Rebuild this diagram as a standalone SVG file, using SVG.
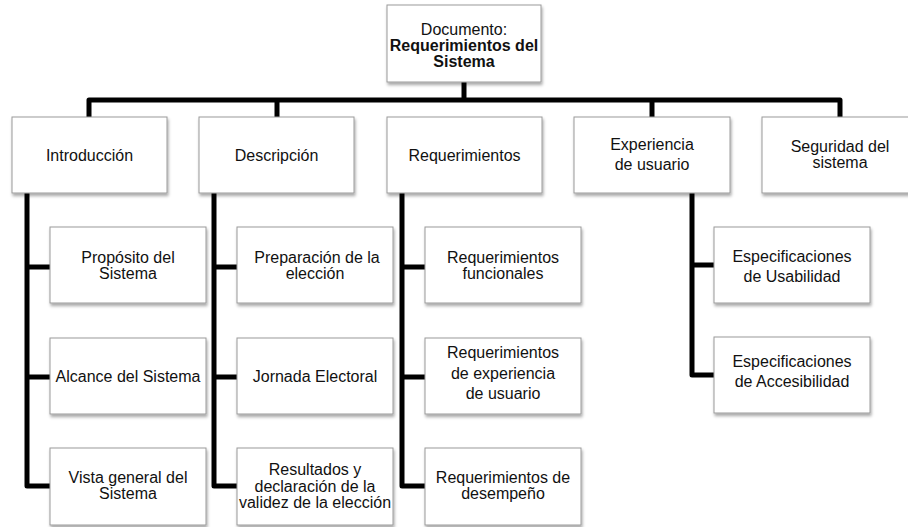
<svg xmlns="http://www.w3.org/2000/svg" width="908" height="527" viewBox="0 0 908 527">
<defs>
<filter id="sh" x="-10%" y="-10%" width="125%" height="130%">
<feDropShadow dx="1" dy="2.5" stdDeviation="1.6" flood-color="#000" flood-opacity="0.35"/>
</filter>
</defs>
<style>
.box{fill:#fff;stroke:#9a9a9a;stroke-width:1;filter:url(#sh)}
text{font-family:"Liberation Sans",Arial,sans-serif;font-size:16px;fill:#111;text-anchor:middle}
.b{font-weight:bold}
.c{fill:none;stroke:#000;stroke-width:5;stroke-linejoin:round;stroke-linecap:butt}
</style>
<rect width="908" height="527" fill="#fff"/>
<g id="connectors">
<path class="c" d="M464,82 V100"/>
<path class="c" d="M89,117 V100 H840 V117"/>
<path class="c" d="M277,100 V117"/>
<path class="c" d="M652,100 V117"/>
<path class="c" d="M27,193 V486 H50 M27,267 H50 M27,377 H50"/>
<path class="c" d="M214,193 V486 H237 M214,267 H237 M214,377 H237"/>
<path class="c" d="M402,193 V486 H425 M402,267 H425 M402,377 H425"/>
<path class="c" d="M692,193 V375 H714 M692,265 H714"/>
</g>
<g id="root">
<rect class="box" x="387" y="5" width="154" height="77"/>
<text x="464" y="35">Documento:</text>
<text class="b" x="464" y="51">Requerimientos del</text>
<text class="b" x="464" y="67">Sistema</text>
</g>
<g id="introduccion">
<rect class="box" x="12" y="117" width="155" height="76"/>
<text x="89.5" y="161">Introducción</text>
</g>
<g id="descripcion">
<rect class="box" x="199" y="117" width="155" height="76"/>
<text x="276.5" y="161">Descripción</text>
</g>
<g id="requerimientos">
<rect class="box" x="387" y="117" width="155" height="76"/>
<text x="464.5" y="161">Requerimientos</text>
</g>
<g id="experiencia">
<rect class="box" x="574" y="117" width="156" height="76"/>
<text x="652" y="150">Experiencia</text>
<text x="652" y="170">de usuario</text>
</g>
<g id="seguridad">
<rect class="box" x="762" y="117" width="156" height="76"/>
<text x="840" y="152">Seguridad del</text>
<text x="840" y="168">sistema</text>
</g>
<g id="proposito">
<rect class="box" x="50" y="227" width="156" height="76"/>
<text x="128" y="263">Propósito del</text>
<text x="128" y="279">Sistema</text>
</g>
<g id="alcance">
<rect class="box" x="50" y="338" width="156" height="76"/>
<text x="128" y="382">Alcance del Sistema</text>
</g>
<g id="vista">
<rect class="box" x="50" y="448" width="156" height="77"/>
<text x="128" y="483">Vista general del</text>
<text x="128" y="499">Sistema</text>
</g>
<g id="preparacion">
<rect class="box" x="237" y="227" width="156" height="76"/>
<text x="317" y="263">Preparación de la</text>
<text x="315" y="279">elección</text>
</g>
<g id="jornada">
<rect class="box" x="237" y="338" width="156" height="76"/>
<text x="315" y="382">Jornada Electoral</text>
</g>
<g id="resultados">
<rect class="box" x="237" y="448" width="156" height="77"/>
<text x="315" y="475">Resultados y</text>
<text x="315" y="492">declaración de la</text>
<text x="315" y="508">validez de la elección</text>
</g>
<g id="funcionales">
<rect class="box" x="425" y="227" width="156" height="76"/>
<text x="503" y="263">Requerimientos</text>
<text x="503" y="279">funcionales</text>
</g>
<g id="experiencia-usuario">
<rect class="box" x="425" y="338" width="156" height="76"/>
<text x="503" y="358">Requerimientos</text>
<text x="503" y="379">de experiencia</text>
<text x="503" y="399">de usuario</text>
</g>
<g id="desempeno">
<rect class="box" x="425" y="448" width="156" height="77"/>
<text x="503" y="483">Requerimientos de</text>
<text x="503" y="499">desempeño</text>
</g>
<g id="usabilidad">
<rect class="box" x="714" y="227" width="156" height="76"/>
<text x="792" y="262">Especificaciones</text>
<text x="792" y="282">de Usabilidad</text>
</g>
<g id="accesibilidad">
<rect class="box" x="714" y="337" width="156" height="76"/>
<text x="792" y="367">Especificaciones</text>
<text x="792" y="387">de Accesibilidad</text>
</g>
</svg>
